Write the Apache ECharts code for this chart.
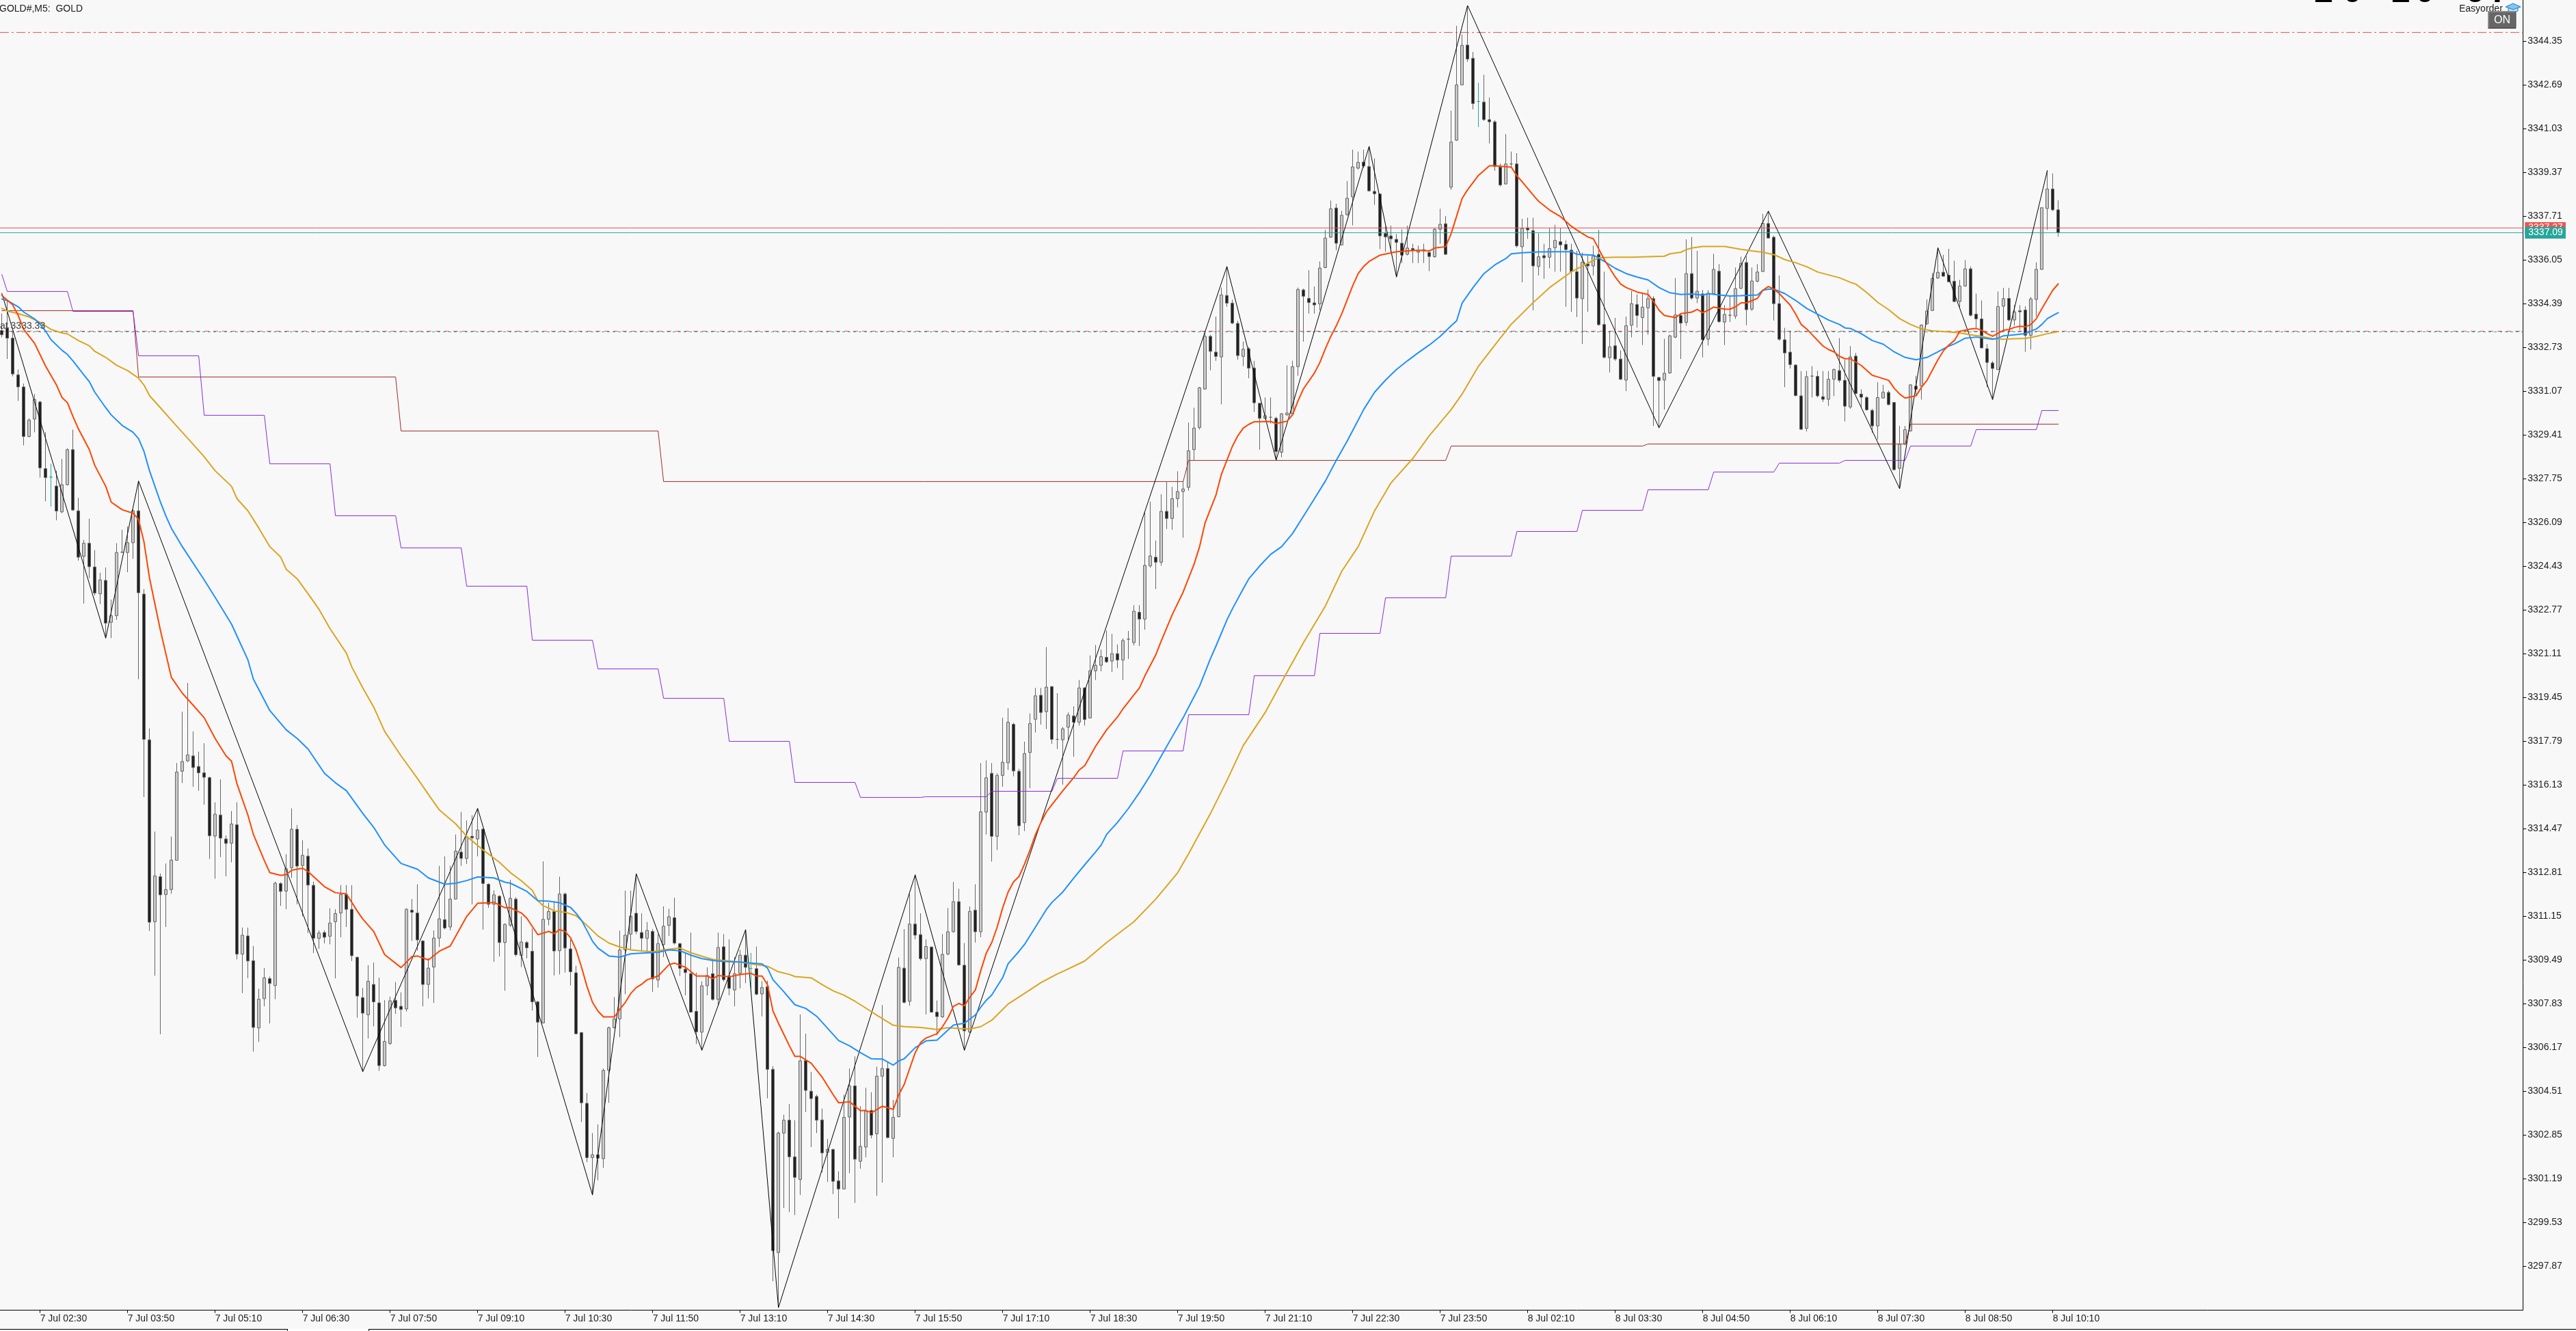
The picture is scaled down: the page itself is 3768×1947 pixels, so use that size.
<!DOCTYPE html>
<html>
<head>
<meta charset="utf-8">
<title>GOLD#, M5</title>
<script src="https://cdn.jsdelivr.net/npm/echarts@6/dist/echarts.min.js"></script>
<style>
html,body{margin:0;padding:0;background:#f8f8f8;overflow:hidden}
#chart{width:3768px;height:1947px}
</style>
</head>
<body>
<div id="chart"></div>
<script>
// Time labels printed every 16 bars along the bottom scale
const timeLabels = ['7 Jul 02:30','7 Jul 03:50','7 Jul 05:10','7 Jul 06:30','7 Jul 07:50','7 Jul 09:10','7 Jul 10:30','7 Jul 11:50','7 Jul 13:10','7 Jul 14:30','7 Jul 15:50','7 Jul 17:10','7 Jul 18:30','7 Jul 19:50','7 Jul 21:10','7 Jul 22:30','7 Jul 23:50','8 Jul 02:10','8 Jul 03:30','8 Jul 04:50','8 Jul 06:10','8 Jul 07:30','8 Jul 08:50','8 Jul 10:10'];

// Price scale labels
const priceTicks = [3344.35,3342.69,3341.03,3339.37,3337.71,3336.05,3334.39,3332.73,3331.07,3329.41,3327.75,3326.09,3324.43,3322.77,3321.11,3319.45,3317.79,3316.13,3314.47,3312.81,3311.15,3309.49,3307.83,3306.17,3304.51,3302.85,3301.19,3299.53,3297.87];

// M5 candles
const opens = [
3333.38,3333.49,3333.09,3331.70,3331.24,3329.36,3330.02,3330.67,3328.14,3327.82,
3327.48,3326.50,3327.53,3328.86,3326.54,3324.81,3325.31,3324.41,3323.39,3323.90,
3322.31,3322.56,3324.97,3324.96,3325.33,3326.54,3323.38,3317.85,3310.95,3312.66,
3311.98,3312.17,3313.28,3316.66,3317.05,3317.24,3316.84,3316.60,3316.42,3314.20,
3315.00,3314.09,3313.93,3314.63,3309.72,3310.41,3309.47,3306.92,3308.03,3308.79,
3308.53,3312.40,3312.11,3313.00,3314.46,3313.08,3313.44,3312.33,3310.32,3310.54,
3310.40,3310.95,3311.28,3311.98,3311.42,3309.60,3308.07,3307.42,3308.57,3307.87,
3305.49,3306.33,3307.97,3307.74,3307.64,3311.39,3311.28,3310.22,3308.57,3309.23,
3310.33,3311.03,3310.75,3311.81,3313.59,3313.35,3314.19,3314.09,3314.46,3312.37,
3311.61,3311.92,3310.16,3310.82,3311.81,3309.67,3310.16,3309.83,3307.91,3307.11,
3311.04,3311.34,3309.85,3312.00,3309.92,3309.01,3306.74,3304.06,3302.00,3302.11,
3301.96,3305.31,3306.93,3307.26,3309.88,3310.48,3311.27,3310.54,3310.32,3310.58,
3308.74,3310.08,3310.81,3311.10,3310.12,3309.15,3308.98,3307.55,3306.76,3308.52,
3308.98,3308.00,3310.00,3308.89,3308.36,3308.99,3309.68,3309.18,3309.17,3308.21,
3308.49,3305.35,3298.40,3302.93,3303.42,3302.03,3301.17,3305.68,3304.52,3304.32,
3303.43,3302.20,3302.31,3301.12,3300.81,3303.54,3304.72,3301.86,3302.40,3303.79,
3302.90,3305.09,3305.38,3302.73,3303.55,3309.19,3307.93,3310.86,3310.46,3309.55,
3309.99,3307.52,3307.34,3309.72,3310.57,3311.71,3309.30,3306.76,3311.39,3310.57,
3315.11,3316.58,3314.19,3316.50,3316.98,3318.44,3316.66,3314.71,3317.37,3318.63,
3319.54,3318.92,3319.87,3317.87,3317.85,3318.33,3318.76,3318.52,3319.82,3318.68,
3320.47,3320.68,3320.98,3320.84,3321.12,3320.88,3321.67,3321.54,3322.69,3322.43,
3324.45,3324.78,3324.59,3326.52,3326.25,3327.00,3327.27,3327.43,3328.86,3329.70,
3331.16,3333.16,3332.56,3332.38,3334.71,3334.42,3333.65,3332.40,3332.69,3331.96,
3330.62,3330.05,3330.09,3330.05,3328.76,3330.18,3330.22,3332.01,3334.92,3334.60,
3334.43,3334.39,3335.77,3336.92,3338.03,3336.63,3337.78,3338.45,3339.54,3339.77,
3339.60,3338.66,3338.56,3337.06,3336.97,3336.84,3336.69,3336.27,3336.49,3336.35,
3336.40,3336.34,3336.18,3337.22,3337.43,3338.82,3340.60,3342.70,3344.21,3343.71,
3342.07,3342.05,3341.38,3341.30,3339.58,3338.94,3339.70,3339.70,3336.56,3337.28,
3337.17,3335.81,3336.22,3336.16,3336.52,3336.75,3336.65,3336.43,3335.61,3334.59,
3335.91,3335.83,3336.27,3333.61,3332.35,3332.80,3332.30,3331.50,3333.58,3334.37,
3333.87,3334.24,3334.59,3331.60,3331.50,3331.77,3333.13,3333.95,3333.69,3335.54,
3334.61,3334.77,3333.05,3334.78,3335.63,3333.70,3333.96,3333.93,3334.98,3335.96,
3334.19,3335.25,3335.62,3337.44,3336.92,3334.40,3333.03,3332.56,3332.07,3330.90,
3329.67,3331.65,3331.64,3330.87,3330.77,3331.53,3331.86,3331.49,3330.48,3332.41,
3330.97,3330.84,3330.35,3329.76,3330.82,3331.03,3330.65,3328.15,3329.07,3329.57,
3331.27,3331.27,3333.63,3334.14,3335.37,3335.59,3335.48,3335.25,3334.48,3335.07,
3335.72,3334.00,3333.82,3332.69,3332.15,3331.90,3334.30,3334.60,3333.78,3334.13,
3334.16,3333.20,3334.56,3335.70,3338.01,3338.75,3337.96];

const closes = [
3333.22,3333.09,3331.73,3331.24,3329.36,3329.98,3330.76,3328.17,3327.80,3327.82,
3326.53,3327.53,3328.86,3326.57,3324.78,3325.31,3324.42,3323.42,3323.92,3322.28,
3322.56,3324.96,3324.97,3325.33,3326.54,3323.43,3317.87,3310.93,3312.69,3311.97,
3312.17,3313.29,3316.63,3317.03,3317.28,3316.80,3316.60,3316.43,3314.21,3315.03,
3314.12,3313.92,3314.66,3309.72,3310.44,3309.46,3306.94,3308.01,3308.82,3308.61,
3312.41,3312.10,3312.96,3314.46,3313.06,3313.47,3312.34,3310.32,3310.52,3310.36,
3310.90,3311.26,3311.98,3311.42,3309.66,3308.13,3307.48,3308.69,3307.91,3305.49,
3306.41,3307.95,3307.68,3307.62,3311.42,3311.31,3310.26,3308.57,3309.19,3310.33,
3311.06,3310.71,3311.81,3313.63,3313.35,3314.16,3314.13,3314.43,3312.40,3311.61,
3311.97,3310.16,3310.85,3311.84,3309.70,3310.18,3309.96,3307.91,3307.14,3311.04,
3311.34,3309.84,3312.00,3309.95,3309.05,3306.70,3304.08,3302.00,3302.11,3301.98,
3305.31,3306.93,3307.26,3309.88,3310.44,3311.16,3310.58,3310.32,3310.62,3308.78,
3310.12,3310.78,3311.14,3310.14,3309.18,3309.02,3307.52,3306.77,3308.52,3308.91,
3308.00,3309.97,3308.75,3308.42,3308.98,3309.68,3309.22,3309.18,3308.20,3308.45,
3305.35,3298.47,3302.93,3303.42,3302.03,3301.25,3305.67,3304.55,3304.24,3303.42,
3302.18,3302.31,3301.10,3300.81,3303.53,3304.72,3301.94,3302.43,3303.76,3302.85,
3305.09,3305.38,3302.76,3303.53,3309.22,3307.89,3310.86,3310.44,3309.55,3310.01,
3307.52,3307.35,3309.71,3310.57,3311.71,3309.31,3306.81,3311.34,3310.57,3315.12,
3316.41,3314.19,3316.50,3317.00,3318.52,3316.67,3314.59,3317.33,3318.47,3319.52,
3318.89,3319.85,3317.87,3317.87,3318.27,3318.79,3318.52,3319.82,3318.62,3320.47,
3320.68,3321.01,3320.81,3321.12,3320.88,3321.62,3321.67,3322.73,3322.43,3324.47,
3324.83,3324.59,3326.52,3326.25,3327.00,3327.27,3327.37,3328.82,3329.68,3331.21,
3333.16,3332.59,3332.40,3334.73,3334.42,3333.66,3332.43,3332.67,3331.95,3330.64,
3330.05,3330.15,3330.09,3328.79,3330.22,3330.25,3332.01,3334.94,3334.68,3334.44,
3334.35,3335.75,3336.89,3338.00,3336.69,3337.75,3338.40,3339.59,3339.76,3339.62,
3338.68,3338.57,3336.97,3336.93,3336.86,3336.72,3336.24,3336.51,3336.43,3336.40,
3336.45,3336.19,3337.22,3337.41,3336.27,3340.53,3342.70,3344.20,3343.68,3341.99,
3342.07,3341.38,3341.30,3339.60,3338.90,3339.70,3339.70,3336.59,3337.25,3337.20,
3335.83,3336.18,3336.14,3336.49,3336.80,3336.63,3336.45,3335.61,3334.61,3335.97,
3335.83,3336.20,3333.60,3332.36,3332.76,3332.30,3331.53,3333.56,3334.40,3333.95,
3334.27,3334.59,3331.64,3331.48,3331.76,3333.18,3333.97,3333.66,3335.54,3334.61,
3334.87,3333.03,3334.79,3335.70,3333.72,3333.99,3333.96,3334.97,3335.93,3334.17,
3335.26,3335.60,3337.45,3336.89,3334.40,3333.05,3332.53,3332.09,3330.91,3329.63,
3331.63,3331.65,3330.90,3330.77,3331.53,3331.90,3331.49,3330.51,3332.38,3330.99,
3330.85,3330.37,3329.76,3330.84,3331.04,3330.57,3328.10,3329.07,3329.62,3331.32,
3331.15,3333.59,3334.12,3335.36,3335.59,3335.44,3335.23,3334.48,3335.07,3335.72,
3333.96,3333.82,3332.72,3332.17,3331.94,3334.29,3334.59,3333.78,3334.09,3334.09,
3333.20,3334.58,3335.70,3338.04,3338.75,3337.96,3337.09];

const highs = [
3334.02,3334.55,3333.36,3331.90,3331.37,3330.05,3330.97,3330.71,3329.52,3328.33,
3328.06,3328.51,3328.92,3329.62,3327.03,3325.44,3326.24,3325.05,3324.19,3324.39,
3323.17,3325.31,3325.82,3325.95,3326.60,3327.67,3323.57,3318.28,3314.37,3312.78,
3313.16,3314.18,3316.97,3318.92,3320.01,3318.17,3317.40,3317.72,3316.45,3315.48,
3316.35,3314.22,3315.15,3315.48,3310.73,3310.73,3310.03,3308.41,3309.19,3308.87,
3312.47,3312.45,3313.51,3315.25,3314.62,3314.04,3313.73,3312.47,3310.62,3310.62,
3311.46,3311.42,3312.34,3312.34,3312.34,3309.63,3308.44,3309.30,3309.40,3308.83,
3307.97,3308.11,3308.66,3308.27,3311.46,3311.81,3312.37,3310.25,3309.56,3310.62,
3313.07,3313.43,3313.07,3314.26,3315.12,3314.79,3314.99,3315.25,3314.49,3312.41,
3312.14,3311.95,3310.89,3312.54,3311.88,3311.15,3310.22,3310.69,3307.95,3313.24,
3311.67,3311.73,3312.66,3312.06,3310.28,3309.28,3306.77,3304.45,3302.93,3303.26,
3305.38,3306.97,3308.09,3310.61,3312.13,3312.13,3312.77,3311.27,3310.94,3310.67,
3310.48,3311.53,3311.44,3311.86,3310.14,3309.75,3310.54,3309.02,3308.69,3309.22,
3309.55,3310.54,3310.48,3310.28,3309.61,3309.88,3310.65,3309.77,3310.01,3308.69,
3308.71,3305.47,3302.99,3303.63,3304.03,3303.42,3307.43,3306.70,3305.25,3304.39,
3303.86,3302.71,3302.34,3301.48,3304.39,3305.38,3305.84,3303.95,3304.65,3304.48,
3305.45,3307.79,3305.64,3304.19,3309.59,3310.67,3312.00,3312.73,3311.27,3310.28,
3310.01,3307.96,3310.48,3311.47,3312.46,3312.20,3310.14,3311.53,3312.37,3316.97,
3317.07,3316.97,3316.58,3318.69,3319.05,3318.50,3316.75,3317.78,3318.85,3319.82,
3319.82,3321.37,3319.89,3319.62,3318.34,3318.89,3319.12,3320.12,3319.85,3321.05,
3321.45,3321.28,3322.00,3321.87,3321.47,3321.70,3321.98,3322.96,3322.96,3326.48,
3326.89,3325.41,3327.17,3327.63,3327.45,3328.04,3327.67,3329.89,3330.45,3331.24,
3333.29,3333.22,3333.91,3335.01,3335.81,3334.55,3333.75,3332.96,3332.76,3332.23,
3330.64,3330.84,3330.84,3330.11,3330.25,3332.06,3332.23,3335.01,3334.97,3335.67,
3335.05,3336.00,3337.20,3338.31,3338.19,3337.92,3339.05,3340.24,3340.17,3340.24,
3340.37,3339.91,3338.58,3337.33,3337.36,3337.04,3337.22,3337.36,3336.67,3336.60,
3336.67,3336.43,3337.26,3338.00,3337.72,3341.72,3344.94,3344.61,3345.71,3343.95,
3342.78,3343.08,3342.22,3341.36,3339.71,3340.83,3340.17,3340.11,3337.62,3337.66,
3337.66,3337.06,3336.67,3337.26,3337.39,3337.26,3336.80,3336.67,3336.40,3336.34,
3336.27,3336.60,3337.20,3335.61,3333.36,3333.86,3332.63,3333.91,3334.88,3334.75,
3334.81,3334.94,3334.68,3331.61,3333.07,3333.22,3335.37,3334.02,3336.84,3336.93,
3336.40,3334.92,3334.91,3336.29,3335.90,3334.34,3334.69,3335.77,3336.18,3336.20,
3335.77,3335.90,3337.80,3337.91,3336.98,3335.47,3333.48,3333.37,3332.10,3331.84,
3331.85,3332.03,3331.85,3331.84,3331.84,3331.94,3333.09,3332.27,3332.79,3332.53,
3331.15,3330.89,3330.41,3331.42,3331.32,3331.10,3330.67,3329.76,3329.76,3331.34,
3331.66,3333.61,3334.56,3335.56,3336.52,3336.25,3336.48,3336.03,3335.30,3336.05,
3335.81,3334.78,3334.52,3332.87,3332.22,3334.86,3335.00,3335.00,3334.34,3334.34,
3334.30,3334.65,3335.97,3338.05,3339.45,3339.34,3338.32];

const lows = [
3333.12,3332.30,3331.64,3330.71,3329.02,3329.32,3329.52,3327.80,3326.90,3326.70,
3326.18,3326.45,3327.50,3326.54,3324.65,3323.02,3323.99,3323.33,3323.00,3321.71,
3321.71,3322.40,3324.94,3324.21,3324.72,3320.15,3315.68,3310.60,3308.90,3306.68,
3310.75,3312.01,3313.27,3316.21,3317.01,3316.07,3315.92,3315.39,3313.33,3312.58,
3313.40,3312.67,3313.20,3309.52,3308.24,3308.81,3306.02,3306.39,3307.74,3307.09,
3308.01,3311.55,3311.42,3312.61,3311.61,3311.15,3310.52,3309.76,3309.92,3310.13,
3310.09,3308.80,3310.36,3310.75,3309.46,3307.31,3305.26,3306.52,3306.98,3305.29,
3305.46,3306.28,3307.45,3306.96,3307.54,3310.22,3309.85,3307.74,3308.04,3307.87,
3309.99,3310.65,3310.62,3311.79,3313.07,3313.14,3311.61,3313.43,3310.65,3311.48,
3309.43,3309.63,3308.33,3310.75,3309.63,3309.23,3309.56,3307.58,3305.82,3307.09,
3310.81,3308.91,3308.95,3309.02,3308.53,3306.68,3303.35,3301.83,3300.58,3301.14,
3301.61,3304.08,3306.90,3306.57,3308.20,3309.88,3310.48,3309.81,3309.81,3308.29,
3308.45,3309.61,3310.41,3310.08,3308.89,3308.16,3307.50,3306.31,3306.07,3308.16,
3307.96,3307.76,3308.69,3308.16,3307.74,3308.42,3308.62,3308.42,3308.16,3307.36,
3304.25,3297.31,3296.31,3300.09,3299.93,3299.82,3300.58,3303.73,3302.40,3302.93,
3301.44,3301.08,3300.62,3299.69,3300.79,3301.41,3300.28,3301.58,3302.01,3302.73,
3300.55,3301.05,3302.73,3302.01,3303.53,3307.85,3307.76,3310.28,3309.48,3307.43,
3307.50,3306.64,3307.30,3309.68,3310.54,3309.28,3306.07,3306.73,3310.16,3310.36,
3314.26,3313.23,3313.67,3316.07,3316.71,3316.47,3314.23,3314.39,3316.02,3318.13,
3318.43,3318.26,3317.70,3317.50,3316.15,3317.84,3317.21,3318.39,3318.39,3318.67,
3320.12,3320.45,3320.77,3320.42,3320.57,3320.12,3320.92,3321.43,3321.41,3322.03,
3324.38,3323.57,3324.46,3325.85,3325.82,3326.67,3325.52,3327.30,3328.46,3329.62,
3331.13,3331.87,3332.23,3330.58,3334.28,3333.62,3332.27,3332.03,3331.57,3330.29,
3328.86,3330.01,3329.85,3328.46,3328.57,3330.15,3330.18,3331.66,3332.96,3334.02,
3334.02,3334.15,3335.74,3336.89,3336.43,3336.60,3337.72,3337.37,3339.49,3339.55,
3338.65,3338.15,3336.47,3336.37,3336.33,3335.41,3335.94,3336.23,3335.94,3335.94,
3335.94,3335.63,3336.14,3336.67,3336.25,3338.72,3340.57,3342.69,3343.57,3341.77,
3341.10,3341.34,3340.48,3339.44,3338.85,3338.92,3339.58,3336.53,3335.21,3336.86,
3334.15,3335.47,3335.34,3335.74,3335.61,3335.61,3334.28,3334.09,3333.89,3332.87,
3334.09,3335.47,3333.56,3332.32,3331.79,3332.23,3331.50,3331.08,3333.12,3333.49,
3332.83,3333.22,3329.76,3329.69,3330.38,3331.74,3333.09,3332.30,3333.56,3334.55,
3334.42,3332.36,3332.81,3334.76,3333.67,3332.83,3333.70,3333.82,3334.95,3333.58,
3334.13,3335.21,3335.60,3336.88,3333.76,3332.99,3331.23,3331.94,3330.89,3329.62,
3329.55,3330.84,3330.84,3330.67,3330.52,3330.89,3331.41,3329.93,3330.41,3330.97,
3330.45,3330.34,3329.50,3329.24,3330.80,3330.54,3328.07,3327.38,3329.03,3329.55,
3330.89,3330.76,3333.61,3334.13,3335.34,3335.42,3335.21,3334.45,3334.26,3335.04,
3333.91,3333.48,3332.70,3331.23,3330.76,3331.88,3333.39,3333.74,3333.57,3333.39,
3332.57,3332.66,3333.91,3335.68,3337.20,3337.91,3336.94];

// Flat bars the terminal paints in its doji colour
const tealDojiBars = [9,137,270];

// Fast moving average: [bar, price]
const maFast = [[0,3334.71],[2,3334.35],[3,3333.95],[4,3333.42],[6,3332.89],[8,3332.03],[10,3331.31],[11,3330.84],[12,3330.64],[13,3330.12],[14,3329.65],[16,3328.86],[17,3328.26],[19,3327.47],[20,3326.87],[22,3326.58],[24,3326.45],[25,3326.21],[26,3325.35],[27,3323.99],[29,3322.00],[31,3320.22],[33,3319.62],[35,3319.16],[37,3318.69],[39,3317.90],[41,3317.24],[42,3317.04],[43,3316.18],[45,3314.99],[46,3314.26],[48,3313.27],[49,3312.81],[51,3312.71],[52,3312.74],[53,3312.90],[55,3312.98],[56,3312.85],[59,3312.28],[61,3312.05],[63,3312.01],[65,3311.35],[66,3311.05],[68,3310.58],[70,3309.70],[73,3309.21],[75,3309.63],[76,3309.65],[78,3309.50],[80,3309.83],[82,3310.03],[85,3311.15],[87,3311.65],[90,3311.68],[92,3311.48],[93,3311.48],[95,3311.28],[96,3311.08],[98,3310.46],[99,3310.52],[100,3310.58],[101,3310.50],[102,3310.65],[103,3310.58],[104,3310.34],[105,3309.88],[106,3309.22],[107,3308.49],[108,3307.89],[109,3307.56],[110,3307.34],[112,3307.34],[113,3307.63],[114,3307.89],[115,3308.23],[116,3308.45],[117,3308.58],[118,3308.75],[120,3308.89],[122,3309.32],[123,3309.38],[125,3309.22],[127,3308.89],[129,3308.89],[130,3308.79],[131,3308.91],[133,3308.86],[135,3308.95],[137,3308.99],[138,3308.89],[139,3308.89],[140,3308.56],[141,3307.56],[142,3307.10],[144,3306.24],[145,3305.84],[146,3305.84],[148,3305.58],[150,3305.05],[152,3304.39],[153,3304.08],[155,3304.12],[157,3303.78],[158,3303.79],[159,3303.70],[161,3303.95],[163,3303.83],[164,3304.39],[165,3304.78],[166,3305.38],[167,3305.98],[168,3306.37],[169,3306.54],[171,3306.70],[172,3306.97],[173,3307.30],[174,3307.74],[175,3307.85],[176,3307.76],[177,3308.09],[178,3308.36],[179,3309.10],[180,3309.76],[181,3310.16],[182,3310.75],[183,3311.48],[184,3312.08],[185,3312.47],[186,3312.67],[187,3313.14],[188,3313.67],[189,3314.26],[190,3314.72],[191,3315.12],[192,3315.39],[194,3315.92],[196,3316.42],[197,3316.71],[198,3316.87],[200,3317.61],[202,3318.23],[204,3318.72],[205,3319.03],[207,3319.56],[208,3319.82],[209,3320.28],[211,3321.08],[212,3321.61],[214,3322.60],[216,3323.46],[218,3324.52],[219,3325.18],[220,3326.08],[222,3327.14],[223,3327.93],[224,3328.46],[225,3328.99],[226,3329.39],[227,3329.68],[228,3329.82],[229,3329.92],[232,3329.93],[233,3329.85],[235,3329.94],[236,3330.18],[237,3330.71],[238,3331.17],[240,3331.77],[241,3332.17],[242,3332.69],[243,3333.16],[244,3333.56],[245,3334.02],[246,3334.55],[247,3335.08],[248,3335.54],[249,3335.81],[250,3336.00],[252,3336.24],[255,3336.37],[259,3336.43],[261,3336.40],[262,3336.51],[264,3336.56],[265,3337.06],[266,3337.72],[267,3338.39],[268,3338.72],[270,3339.27],[272,3339.63],[273,3339.63],[276,3339.58],[277,3339.25],[278,3339.02],[280,3338.52],[281,3338.28],[283,3337.95],[285,3337.70],[287,3337.33],[288,3337.19],[290,3336.93],[291,3336.86],[292,3336.47],[293,3336.07],[294,3335.74],[295,3335.41],[296,3335.14],[297,3335.01],[299,3334.84],[301,3334.75],[302,3334.48],[303,3334.15],[304,3333.95],[306,3333.87],[307,3334.02],[309,3334.08],[310,3334.18],[311,3334.06],[312,3334.15],[313,3334.27],[315,3334.19],[316,3334.19],[317,3334.28],[318,3334.43],[319,3334.43],[321,3334.60],[322,3334.91],[323,3335.05],[324,3334.95],[325,3334.78],[327,3334.34],[328,3334.00],[329,3333.61],[330,3333.44],[331,3333.22],[333,3332.79],[334,3332.66],[335,3332.57],[336,3332.40],[337,3332.31],[338,3332.31],[340,3332.05],[342,3331.68],[343,3331.62],[345,3331.49],[346,3331.19],[347,3330.97],[348,3330.82],[350,3330.90],[351,3331.23],[352,3331.49],[353,3331.88],[354,3332.27],[355,3332.61],[356,3332.83],[357,3333.00],[358,3333.35],[360,3333.44],[361,3333.46],[362,3333.39],[363,3333.26],[364,3333.16],[366,3333.39],[367,3333.42],[368,3333.50],[369,3333.54],[370,3333.52],[371,3333.61],[372,3333.83],[373,3334.21],[374,3334.56],[375,3334.91],[376,3335.15]];

// Medium moving average: [bar, price]
const maMedium = [[0,3334.57],[1,3334.52],[3,3334.28],[4,3334.08],[6,3333.82],[7,3333.62],[8,3333.36],[9,3333.03],[11,3332.63],[12,3332.47],[13,3332.23],[15,3331.70],[16,3331.44],[17,3331.04],[19,3330.45],[20,3330.18],[22,3329.78],[24,3329.52],[25,3329.28],[26,3328.79],[27,3328.06],[29,3326.87],[30,3326.34],[31,3325.88],[33,3325.18],[37,3323.92],[39,3323.26],[42,3322.24],[45,3320.88],[46,3320.15],[49,3318.96],[52,3318.23],[54,3317.90],[56,3317.50],[59,3316.58],[61,3316.22],[63,3315.92],[66,3315.06],[68,3314.53],[70,3313.86],[73,3313.16],[76,3312.94],[78,3312.61],[81,3312.37],[83,3312.41],[85,3312.51],[87,3312.65],[90,3312.61],[92,3312.45],[93,3312.41],[96,3312.10],[98,3311.75],[100,3311.73],[102,3311.67],[104,3311.49],[105,3311.27],[106,3311.00],[107,3310.61],[108,3310.21],[109,3309.95],[111,3309.65],[113,3309.61],[115,3309.73],[117,3309.76],[120,3309.79],[122,3309.88],[124,3309.85],[126,3309.68],[128,3309.55],[130,3309.48],[132,3309.44],[135,3309.42],[137,3309.38],[139,3309.35],[140,3309.19],[141,3308.75],[143,3308.29],[145,3307.80],[147,3307.66],[149,3307.36],[151,3306.90],[153,3306.44],[155,3306.24],[157,3305.98],[159,3305.75],[161,3305.74],[163,3305.51],[164,3305.67],[165,3305.75],[167,3306.17],[169,3306.43],[171,3306.46],[173,3306.84],[174,3307.03],[176,3307.10],[178,3307.41],[179,3307.71],[180,3307.97],[181,3308.17],[183,3308.83],[184,3309.36],[186,3309.83],[187,3310.09],[189,3310.75],[191,3311.42],[192,3311.68],[194,3312.08],[196,3312.61],[198,3313.11],[200,3313.60],[201,3313.86],[202,3314.26],[204,3314.72],[206,3315.25],[208,3315.85],[210,3316.51],[212,3317.24],[214,3317.97],[216,3318.69],[218,3319.49],[219,3319.89],[221,3320.94],[222,3321.41],[224,3322.40],[225,3322.82],[227,3323.59],[228,3323.96],[230,3324.45],[232,3324.89],[234,3325.18],[236,3325.68],[238,3326.34],[240,3327.00],[242,3327.67],[244,3328.46],[246,3329.19],[248,3329.98],[249,3330.38],[251,3331.04],[253,3331.50],[255,3331.90],[257,3332.23],[259,3332.54],[261,3332.83],[263,3333.16],[265,3333.56],[266,3333.75],[267,3334.42],[269,3335.01],[271,3335.54],[273,3335.87],[275,3336.11],[276,3336.29],[278,3336.33],[281,3336.36],[284,3336.37],[287,3336.37],[288,3336.27],[291,3336.24],[293,3336.00],[295,3335.74],[297,3335.54],[299,3335.41],[301,3335.30],[303,3335.01],[305,3334.81],[307,3334.75],[309,3334.77],[311,3334.72],[312,3334.78],[314,3334.73],[316,3334.69],[318,3334.70],[321,3334.73],[322,3334.91],[323,3334.95],[324,3334.95],[326,3334.78],[328,3334.52],[330,3334.22],[332,3334.00],[334,3333.78],[336,3333.61],[337,3333.48],[338,3333.46],[340,3333.26],[342,3333.00],[344,3332.86],[346,3332.57],[348,3332.36],[350,3332.27],[352,3332.36],[354,3332.57],[356,3332.79],[357,3332.87],[359,3333.09],[361,3333.13],[364,3333.05],[365,3333.09],[366,3333.18],[368,3333.22],[370,3333.26],[372,3333.44],[373,3333.61],[374,3333.83],[375,3333.95],[376,3334.06]];

// Slow moving average: [bar, price]
const maSlow = [[0,3334.22],[1,3334.12],[3,3334.02],[5,3333.89],[7,3333.69],[9,3333.42],[11,3333.29],[12,3333.25],[14,3333.00],[16,3332.80],[17,3332.59],[19,3332.36],[21,3332.06],[23,3331.86],[25,3331.57],[26,3331.31],[27,3330.91],[29,3330.45],[31,3329.98],[33,3329.52],[35,3329.06],[37,3328.59],[39,3328.06],[42,3327.47],[43,3327.00],[45,3326.54],[47,3325.88],[49,3325.18],[51,3324.78],[52,3324.32],[54,3323.96],[56,3323.39],[58,3322.80],[60,3322.07],[63,3321.14],[64,3320.61],[66,3319.82],[68,3319.09],[70,3318.17],[73,3317.24],[76,3316.38],[78,3315.78],[80,3315.19],[83,3314.66],[85,3314.19],[88,3313.67],[91,3313.20],[93,3312.81],[95,3312.50],[97,3312.14],[98,3311.75],[99,3311.55],[100,3311.47],[101,3311.36],[103,3311.31],[105,3311.18],[107,3310.81],[109,3310.41],[111,3310.14],[113,3309.99],[115,3309.88],[117,3309.84],[119,3309.81],[121,3309.88],[124,3309.95],[126,3309.77],[128,3309.64],[130,3309.52],[132,3309.48],[135,3309.42],[137,3309.35],[140,3309.26],[142,3309.05],[144,3308.95],[145,3308.87],[148,3308.82],[150,3308.56],[152,3308.33],[154,3308.16],[156,3307.93],[158,3307.67],[160,3307.40],[163,3307.02],[165,3306.97],[168,3306.94],[171,3306.86],[173,3306.93],[175,3306.90],[177,3306.88],[179,3306.97],[181,3307.21],[184,3307.83],[187,3308.23],[190,3308.64],[193,3308.97],[194,3309.06],[198,3309.46],[202,3310.16],[207,3310.95],[211,3311.81],[215,3312.81],[217,3313.53],[221,3315.06],[224,3316.31],[227,3317.64],[231,3318.89],[235,3320.42],[238,3321.54],[242,3322.93],[245,3324.25],[248,3325.18],[251,3326.54],[254,3327.60],[258,3328.53],[261,3329.39],[265,3330.38],[267,3330.97],[270,3332.03],[273,3332.83],[276,3333.62],[280,3334.44],[283,3335.01],[287,3335.61],[290,3335.94],[292,3336.14],[295,3336.16],[298,3336.16],[304,3336.20],[305,3336.29],[307,3336.35],[308,3336.45],[309,3336.51],[311,3336.57],[315,3336.57],[318,3336.46],[320,3336.40],[322,3336.35],[324,3336.26],[326,3336.07],[328,3335.95],[330,3335.80],[332,3335.60],[334,3335.49],[336,3335.38],[338,3335.21],[339,3335.14],[341,3334.82],[343,3334.45],[345,3334.17],[347,3333.83],[349,3333.61],[351,3333.44],[353,3333.37],[356,3333.33],[358,3333.29],[360,3333.22],[362,3333.16],[364,3333.07],[366,3333.05],[368,3333.07],[370,3333.08],[372,3333.16],[374,3333.26],[376,3333.34]];

// ZigZag pivots: [bar, price]
const zigzag = [[0,3334.79],[19,3321.71],[25,3327.67],[66,3305.26],[87,3315.25],[108,3300.58],[116,3312.77],[128,3306.07],[136,3310.65],[142,3296.31],[167,3312.73],[176,3306.07],[224,3335.81],[233,3328.46],[250,3340.37],[255,3335.41],[268,3345.71],[303,3329.69],[323,3337.91],[347,3327.38],[354,3336.52],[364,3330.76],[374,3339.45]];

// Step channel, lower rail: [bar, price]
const stepPurple = [[0,3335.508],[1,3334.860],[12,3334.860],[13,3334.107],[24,3334.107],[25,3332.421],[36,3332.421],[37,3330.165],[48,3330.165],[49,3328.323],[60,3328.323],[61,3326.352],[72,3326.352],[73,3325.133],[84,3325.133],[85,3323.680],[96,3323.680],[97,3321.631],[108,3321.631],[109,3320.542],[120,3320.542],[121,3319.427],[132,3319.427],[133,3317.793],[144,3317.793],[145,3316.236],[156,3316.236],[157,3315.666],[168,3315.666],[169,3315.692],[180,3315.692],[181,3315.899],[192,3315.899],[193,3316.392],[204,3316.392],[205,3317.429],[216,3317.429],[217,3318.804],[228,3318.804],[229,3320.283],[240,3320.283],[241,3321.890],[252,3321.890],[253,3323.239],[264,3323.239],[265,3324.822],[276,3324.822],[277,3325.755],[288,3325.755],[289,3326.559],[300,3326.559],[301,3327.338],[312,3327.338],[313,3328.012],[324,3328.012],[325,3328.349],[336,3328.349],[337,3328.453],[348,3328.453],[349,3328.997],[360,3328.997],[361,3329.620],[372,3329.620],[373,3330.346],[376,3330.346]];

// Step channel, slower rail: [bar, price]
const stepBrown = [[0,3334.133],[24,3334.133],[25,3331.617],[72,3331.617],[73,3329.568],[120,3329.568],[121,3327.649],[216,3327.649],[217,3328.453],[264,3328.453],[265,3328.997],[300,3328.997],[301,3329.075],[348,3329.075],[349,3329.828],[376,3329.828]];

// Horizontal levels on the chart
const askPrice = 3337.27;
const bidPrice = 3337.09;
const upperAlertLevel = 3344.69;
const alertLevelRed = 3333.355;
const alertLevelTeal = 3333.33;

// Total slots on the time scale, including the empty shift to the right of the last bar
const slotCount = 461;
const firstLabelBar = 7;
const labelEvery = 16;

const categories = Array.from({length: slotCount}, (_, i) => {
  const k = (i - firstLabelBar) / labelEvery;
  return Number.isInteger(k) && k >= 0 && k < timeLabels.length ? timeLabels[k] : '';
});
const isLabelled = (i) => categories[i] !== '';

const TEAL = '#26a69a';
const RED = '#ef5350';
const axisFont = {fontFamily: '"Liberation Sans", sans-serif', fontSize: 14, color: '#1c1c1c'};

const candles = opens.map((o, i) => {
  const value = [o, closes[i], lows[i], highs[i]];
  return tealDojiBars.includes(i)
    ? {value, itemStyle: {borderColor: TEAL, borderColor0: TEAL, borderColorDoji: TEAL}}
    : value;
});

const lineOn = (name, data, color, width, z) => ({
  name, type: 'line', data, symbol: 'none', showSymbol: false, silent: true, animation: false,
  xAxisIndex: 0, yAxisIndex: 0, z,
  lineStyle: {color, width, cap: 'round', join: 'round'}
});

// A level spans the whole plot on the second grid, whose x runs 0..1
const level = (name, price, color, type, z, tag) => ({
  name, type: 'line', data: [[0, price], [1, price]], symbol: 'none', showSymbol: false, silent: true,
  animation: false, xAxisIndex: 1, yAxisIndex: 1, z,
  lineStyle: {color, width: 1, type},
  endLabel: tag ? {
    show: true, distance: 3, formatter: () => price.toFixed(2), color: '#fff',
    backgroundColor: color, padding: [2, 4, 1, 5],
    fontFamily: '"Liberation Sans", sans-serif', fontSize: 14
  } : {show: false}
});

const label = (text, x, y, extra, z) => ({
  type: 'text', x, y, silent: true, z: z || 50,
  style: Object.assign({text, fill: '#1c1c1c', font: '14px "Liberation Sans", sans-serif', textVerticalAlign: 'middle'}, extra || {})
});

// Clock digits sitting mostly above the window's top edge
const clockDigits = [['2', 3385], ['0', 3427], ['2', 3498], ['0', 3533], ['6', 3606], ['7', 3642]];

const graphic = [
  label('GOLD#,M5:  GOLD', -1, 13),
  label('at 3333.33', 0, 477, {fill: '#444'}),
  label('Easyorder', 3597, 13),
  {type: 'rect', silent: true, z: 51, shape: {x: 3640, y: 17, width: 40, height: 25}, style: {fill: '#666666'}},
  {type: 'polyline', silent: true, z: 52, shape: {points: [[3640, 42], [3640, 17], [3680, 17]]}, style: {stroke: '#8a8a8a', lineWidth: 2, fill: null}},
  {type: 'polyline', silent: true, z: 52, shape: {points: [[3640, 41], [3680, 41], [3680, 17]]}, style: {stroke: '#484848', lineWidth: 1, fill: null}},
  label('ON', 3660, 30, {fill: '#ffffff', font: '16px "Liberation Sans", sans-serif', textAlign: 'center'}, 53),
  {type: 'polygon', silent: true, z: 51, shape: {points: [[3669, 9], [3669, 16], [3676, 18], [3683, 16], [3683, 9]]}, style: {fill: '#bfe4fa', stroke: '#1c78c4', lineWidth: 1}},
  {type: 'polygon', silent: true, z: 52, shape: {points: [[3665, 10], [3676, 5], [3687, 10], [3676, 14]]}, style: {fill: '#7cc8f3', stroke: '#1c78c4', lineWidth: 1}},
  // Tab strip under the chart
  {type: 'rect', silent: true, z: 40, shape: {x: 0, y: 1945, width: 3768, height: 2}, style: {fill: '#f0f0f0'}},
  {type: 'rect', silent: true, z: 41, shape: {x: 421, y: 1944, width: 118, height: 3}, style: {fill: '#ffffff'}},
  {type: 'rect', silent: true, z: 42, shape: {x: 0, y: 1944, width: 421, height: 1}, style: {fill: '#000'}},
  {type: 'rect', silent: true, z: 42, shape: {x: 539, y: 1944, width: 3229, height: 1}, style: {fill: '#000'}},
  {type: 'rect', silent: true, z: 42, shape: {x: 420, y: 1944, width: 1, height: 3}, style: {fill: '#000'}},
  {type: 'rect', silent: true, z: 42, shape: {x: 539, y: 1944, width: 1, height: 3}, style: {fill: '#000'}}
].concat(clockDigits.map(([d, x]) => ({
  type: 'text', x, y: 14, silent: true, z: 50,
  style: {text: d, fill: '#000', font: 'bold 50px "Liberation Sans", sans-serif', textVerticalAlign: 'bottom'}
})));

// The plot starts at the window's top edge; the scale continues above it
const priceMin = 3296.21, priceMax = 3345.92;

const option = {
  animation: false,
  backgroundColor: '#f8f8f8',
  grid: [
    {left: -1.33, top: 0, width: 3688, height: 1916.6, outerBoundsMode: 'none'},
    {left: 0, top: 0, width: 3690.3, height: 1916.6, outerBoundsMode: 'none'}
  ],
  xAxis: [
    {
      type: 'category', gridIndex: 0, data: categories, boundaryGap: true,
      axisLine: {show: false},
      axisTick: {show: true, interval: isLabelled, alignWithLabel: true, length: 4, lineStyle: {color: '#000'}},
      axisLabel: Object.assign({show: true, interval: isLabelled, align: 'left', margin: 6, hideOverlap: false}, axisFont),
      splitLine: {show: false}
    },
    {
      type: 'value', gridIndex: 1, min: 0, max: 1,
      axisLine: {show: true, onZero: false, lineStyle: {color: '#000', width: 1}},
      axisTick: {show: false}, axisLabel: {show: false}, splitLine: {show: false}
    }
  ],
  yAxis: [
    {type: 'value', gridIndex: 0, min: priceMin, max: priceMax, show: false, splitLine: {show: false}},
    {
      type: 'value', gridIndex: 1, position: 'right', min: priceMin, max: priceMax,
      axisLine: {show: true, onZero: false, lineStyle: {color: '#000', width: 1}},
      axisTick: {show: true, length: 5, customValues: priceTicks, lineStyle: {color: '#000'}},
      axisLabel: Object.assign({show: true, margin: 7, customValues: priceTicks, formatter: (v) => v.toFixed(2)}, axisFont),
      splitLine: {show: false}
    }
  ],
  graphic: graphic,
  series: [
    {
      name: 'GOLD#', type: 'candlestick', data: candles, barWidth: 4, silent: true, animation: false,
      xAxisIndex: 0, yAxisIndex: 0, z: 3,
      itemStyle: {
        color: '#c8c8c8', color0: '#222222',
        borderColor: '#666666', borderColor0: '#666666', borderColorDoji: '#666666',
        borderWidth: 1
      }
    },
    level('upper alert', upperAlertLevel, RED, [13, 4, 3, 4], 2),
    level('alert red', alertLevelRed, RED, [7, 6], 2),
    level('alert teal', alertLevelTeal, TEAL, [4, 4], 2),
    level('ask', askPrice, RED, 'solid', 4, true),
    level('bid', bidPrice, TEAL, 'solid', 5, true),
    lineOn('step rail', stepBrown, '#a52a2a', 1, 6),
    lineOn('step rail fast', stepPurple, '#8a2be2', 1, 6),
    lineOn('ZigZag', zigzag, '#000000', 1, 7),
    lineOn('MA slow', maSlow, '#daa520', 2, 8),
    lineOn('MA medium', maMedium, '#1e90ff', 2, 9),
    lineOn('MA fast', maFast, '#ff4500', 2, 10)
  ]
};

const chart = echarts.init(document.getElementById('chart'), null, {renderer: 'canvas', width: 3768, height: 1947});
chart.setOption(option);
</script>
</body>
</html>
